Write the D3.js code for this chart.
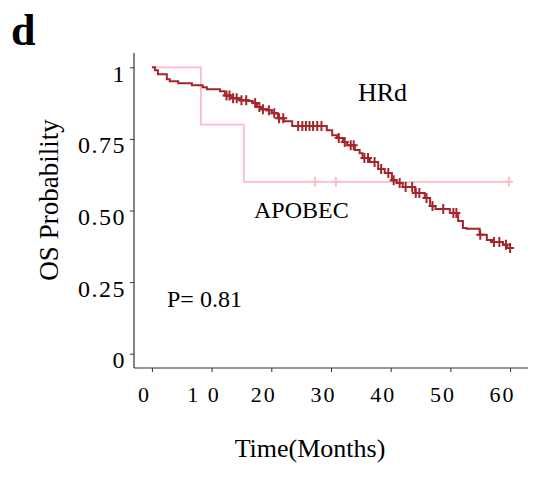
<!DOCTYPE html>
<html>
<head>
<meta charset="utf-8">
<script src="https://cdn.jsdelivr.net/npm/d3@7"></script>
<style>
  body { margin: 0; background: #fff; }
  svg { display: block; font-family: 'Liberation Serif', 'Times New Roman', serif; }
  .axis text { fill: #000; }
</style>
</head>
<body>
<svg width="541" height="480"></svg>
<script>
// step points of each Kaplan-Meier curve (time in months, survival)
const hrdTimes = [0, 0.5, 1.0, 2.5, 3.0, 4.4, 6.7, 8.5, 9.2, 11.4, 12.2, 13.4, 14.7, 16.1, 16.9, 17.6, 18.4, 19.3, 20.1, 21.1, 22.1, 23.5, 29.3, 30.2, 31.0, 32.0, 32.7, 34.0, 34.8, 35.3, 36.5, 37.9, 39.0, 40.2, 41.0, 42.0, 44.1, 45.7, 46.6, 47.5, 49.9, 51.3, 52.1, 52.7, 54.9, 56.1, 57.0, 58.8, 59.5]
const hrdSurv = [1, 0.990, 0.976, 0.958, 0.951, 0.944, 0.937, 0.930, 0.923, 0.916, 0.902, 0.892, 0.885, 0.882, 0.875, 0.861, 0.854, 0.850, 0.840, 0.822, 0.812, 0.795, 0.780, 0.763, 0.753, 0.739, 0.728, 0.711, 0.700, 0.683, 0.669, 0.645, 0.631, 0.606, 0.596, 0.582, 0.561, 0.544, 0.516, 0.505, 0.491, 0.463, 0.439, 0.436, 0.415, 0.397, 0.390, 0.380, 0.369]
const hrdCensor = [12.5, 13.0, 13.6, 14.2, 15.0, 15.8, 17.3, 18.0, 18.6, 19.6, 20.5, 21.3, 22.0, 24.5, 25.2, 25.8, 26.4, 27.0, 27.7, 28.4, 31.3, 32.3, 33.3, 33.8, 35.6, 36.2, 37.3, 38.4, 39.6, 40.5, 41.5, 42.5, 43.6, 44.2, 44.8, 46.0, 47.0, 48.8, 50.5, 51.0, 55.0, 57.3, 58.2, 59.3, 60.0]

const apoTimes = [0, 8.2, 15.4]
const apoSurv = [1, 0.8, 0.6]
const apoCensor = [27.3, 30.8, 59.8]

const endTime = 60
const xTicks = [0, 10, 20, 30, 40, 50, 60]
const xTickLabels = ['0', '1 0', '20', '30', '40', '50', '60']
const yTicks = [0, 0.25, 0.5, 0.75, 1]
const yTickLabels = ['0', '0.25', '0.50', '0.75', '1']

const svg = d3.select('svg')
const serif = "'Liberation Serif', 'Times New Roman', serif"

const x = d3.scaleLinear([-3, 63], [134, 528])
const y = d3.scaleLinear([-0.05, 1.05], [368, 53])

function toSteps (times, surv) {
  const pts = times.map((t, i) => ({ t, s: surv[i] }))
  pts.push({ t: endTime, s: surv[surv.length - 1] })
  return pts
}
function survAt (times, surv, t) {
  const i = d3.bisectRight(times, t) - 1
  return surv[Math.max(0, i)]
}

const line = d3.line()
  .x(d => x(d.t))
  .y(d => y(d.s))
  .curve(d3.curveStepAfter)

const groups = [
  { times: apoTimes, surv: apoSurv, censor: apoCensor, color: '#ffbcc6', width: 1.8 },
  { times: hrdTimes, surv: hrdSurv, censor: hrdCensor, color: '#a3262b', width: 2 },
]

groups.forEach(g => {
  svg.append('path')
    .datum(toSteps(g.times, g.surv))
    .attr('d', line)
    .attr('fill', 'none')
    .attr('stroke', g.color)
    .attr('stroke-width', g.width)

  svg.append('g')
    .selectAll('path')
    .data(g.censor)
    .join('path')
    .attr('transform', t => `translate(${ x(t) },${ y(survAt(g.times, g.surv, t)) })`)
    .attr('d', 'M-4,0H4M0,-5V5')
    .attr('stroke', g.color)
    .attr('stroke-width', 2)
})

// X axis
const xAxis = d3.axisBottom(x)
  .tickValues(xTicks)
  .tickFormat((d, i) => xTickLabels[i])
  .tickSize(4)
  .tickSizeOuter(0)
const xAxisEl = svg.append('g')
  .classed('axis', true)
  .attr('transform', `translate(0,${ y(-0.05) })`)
  .call(xAxis)
  .attr('font-family', serif)
xAxisEl.select('.domain').remove()
xAxisEl.selectAll('.tick line').attr('stroke', '#333')
xAxisEl.selectAll('.tick text')
  .attr('y', 34)
  .attr('dy', 0)
  .attr('dx', -8)
  .style('font-size', '22px')
  .style('letter-spacing', '2px')

// Y axis
const yAxis = d3.axisLeft(y)
  .tickValues(yTicks)
  .tickFormat((d, i) => yTickLabels[i])
  .tickSize(4)
  .tickSizeOuter(0)
const yAxisEl = svg.append('g')
  .classed('axis', true)
  .attr('transform', `translate(${ x(-3) },0)`)
  .call(yAxis)
  .attr('font-family', serif)
yAxisEl.select('.domain').remove()
yAxisEl.selectAll('.tick line').attr('stroke', '#333')
yAxisEl.selectAll('.tick text')
  .attr('x', -8)
  .attr('dy', 14)
  .style('font-size', '24px')
  .style('letter-spacing', '1.5px')

// axis lines
svg.append('line')
  .attr('x1', x(-3)).attr('x2', x(-3))
  .attr('y1', y(1.05)).attr('y2', y(-0.05))
  .attr('stroke', '#333').attr('stroke-width', 1.2)
svg.append('line')
  .attr('x1', x(-3)).attr('x2', x(63))
  .attr('y1', y(-0.05)).attr('y2', y(-0.05))
  .attr('stroke', '#333').attr('stroke-width', 1.2)

// titles and labels
svg.append('text')
  .attr('x', 310)
  .attr('y', 457)
  .attr('text-anchor', 'middle')
  .style('font-size', '26px')
  .text('Time(Months)')

svg.append('text')
  .attr('transform', 'translate(58,200) rotate(-90)')
  .attr('text-anchor', 'middle')
  .style('font-size', '27px')
  .text('OS Probability')

svg.append('text')
  .attr('x', 11)
  .attr('y', 45)
  .style('font-size', '44px')
  .style('font-weight', 'bold')
  .text('d')

svg.append('text')
  .attr('x', 358)
  .attr('y', 101)
  .style('font-size', '26px')
  .text('HRd')

svg.append('text')
  .attr('x', 254)
  .attr('y', 218)
  .style('font-size', '24px')
  .text('APOBEC')

svg.append('text')
  .attr('x', 167)
  .attr('y', 307)
  .style('font-size', '24px')
  .text('P= 0.81')
</script>
</body>
</html>
